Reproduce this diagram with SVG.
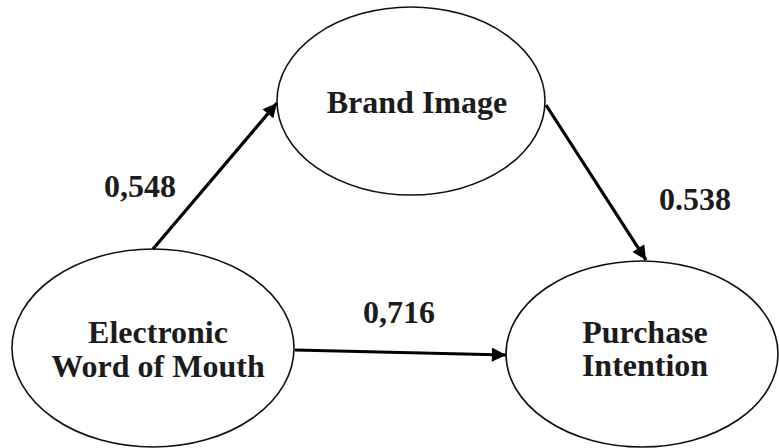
<svg xmlns="http://www.w3.org/2000/svg" width="779" height="448" viewBox="0 0 779 448">
<style>
.node ellipse{fill:#fff;stroke:#111;stroke-width:1.6}
text{font-family:"Liberation Serif","Times New Roman","DejaVu Serif",serif;font-weight:bold;font-size:32px;fill:#1c1c1c;text-anchor:middle}
.conn line{stroke:#000;stroke-width:3.2}
</style>
<defs>
<marker id="ah" viewBox="0 0 10 10" refX="10" refY="5" markerWidth="5" markerHeight="4.4" markerUnits="strokeWidth" orient="auto">
<path d="M0,0 L10,5 L0,10 z" fill="#000"/>
</marker>
</defs>
<rect width="779" height="448" fill="#fff"/>
<g id="brand-image" class="node">
<ellipse cx="411" cy="101" rx="134" ry="94"/>
<text x="417" y="113">Brand Image</text>
</g>
<g id="ewom" class="node">
<ellipse cx="153" cy="348" rx="141" ry="99"/>
<text x="158" y="343">Electronic</text>
<text x="158" y="377">Word of Mouth</text>
</g>
<g id="purchase-intention" class="node">
<ellipse cx="642" cy="354" rx="136" ry="93"/>
<text x="645" y="343">Purchase</text>
<text x="645" y="376">Intention</text>
</g>
<g id="connectors" class="conn">
<line x1="153" y1="249" x2="277" y2="103" marker-end="url(#ah)"/>
<line x1="546" y1="105" x2="646" y2="260" marker-end="url(#ah)"/>
<line x1="295" y1="350" x2="506" y2="355" marker-end="url(#ah)"/>
</g>
<g id="labels">
<text x="140" y="197">0,548</text>
<text x="695" y="210">0.538</text>
<text x="399" y="323">0,716</text>
</g>
</svg>
